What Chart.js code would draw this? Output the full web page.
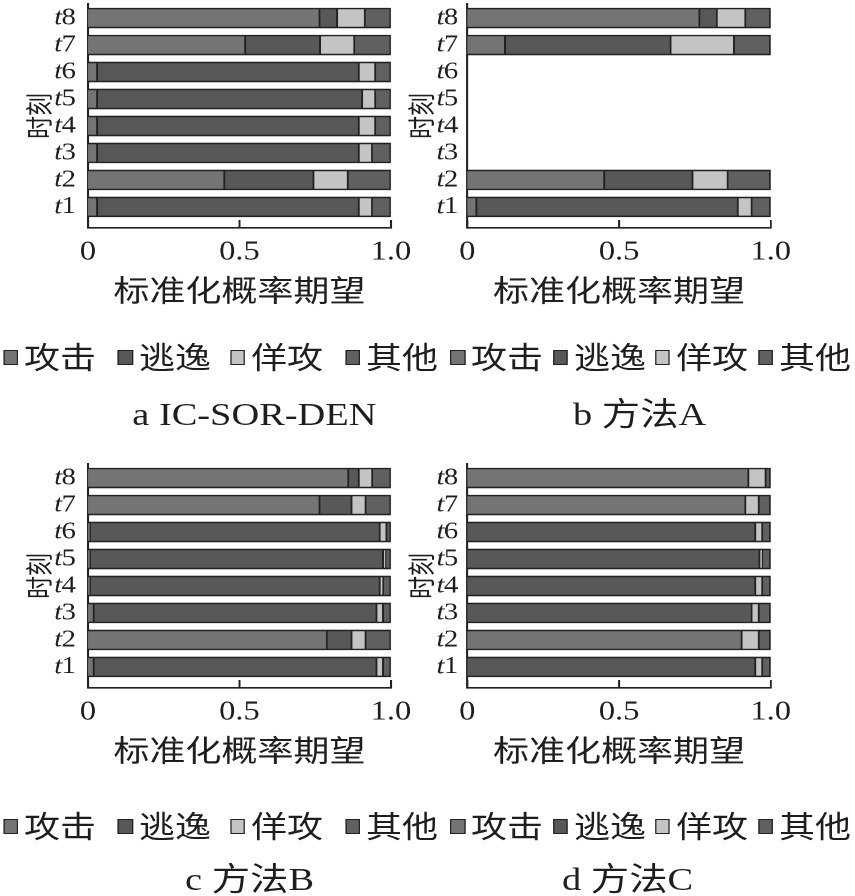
<!DOCTYPE html>
<html>
<head>
<meta charset="utf-8">
<script src="https://cdn.jsdelivr.net/npm/chart.js@4.4.1/dist/chart.umd.min.js"></script>
<style>
  html, body { margin: 0; padding: 0; background: #fff; }
  #page { position: relative; width: 713px; height: 896px; transform: scaleX(1.2); transform-origin: 0 0; }
  canvas { position: absolute; }
  .box { position: absolute; width: 12.5px; height: 15px; box-sizing: border-box; border: 1.5px solid #222; }
  .lab { position: absolute; font: 30px "Noto Sans CJK SC"; line-height: 30px; color: #1e1e1e; white-space: nowrap; }
  .cap { position: absolute; font: 32px "Liberation Serif", "Noto Sans CJK SC"; line-height: 32px; color: #1e1e1e; white-space: nowrap; transform: translateX(-50%); }
</style>
</head>
<body>
<div id="page">
  <canvas id="chartA" width="356" height="320" style="left:0;top:0"></canvas>
  <canvas id="chartB" width="382" height="320" style="left:330px;top:0"></canvas>
  <canvas id="chartC" width="356" height="320" style="left:0;top:460px"></canvas>
  <canvas id="chartD" width="382" height="320" style="left:330px;top:460px"></canvas>
</div>
<script>
const categories = ["t1", "t2", "t3", "t4", "t5", "t6", "t7", "t8"];
const seriesNames = ["攻击", "逃逸", "佯攻", "其他"];
const xTickLabels = ["0", "0.5", "1.0"];
const colors = ["#747474", "#585858", "#c4c4c4", "#606060"];

// a IC-SOR-DEN
const aAttack = [0.032, 0.452, 0.032, 0.032, 0.032, 0.032, 0.521, 0.766];
const aEscape = [0.864, 0.294, 0.864, 0.864, 0.875, 0.864, 0.247, 0.058];
const aFeint  = [0.043, 0.113, 0.043, 0.054, 0.043, 0.054, 0.113, 0.092];
const aOther  = [0.061, 0.141, 0.061, 0.050, 0.050, 0.050, 0.119, 0.084];

// b 方法A (t3-t6 missing)
const bAttack = [0.032, 0.453, null, null, null, null, 0.126, 0.767];
const bEscape = [0.861, 0.291, null, null, null, null, 0.546, 0.057];
const bFeint  = [0.046, 0.116, null, null, null, null, 0.209, 0.094];
const bOther  = [0.061, 0.140, null, null, null, null, 0.119, 0.082];

// c 方法B
const cAttack = [0.021, 0.790, 0.021, 0.009, 0.009, 0.009, 0.766, 0.861];
const cEscape = [0.933, 0.082, 0.933, 0.956, 0.967, 0.956, 0.106, 0.035];
const cFeint  = [0.022, 0.046, 0.022, 0.011, 0.008, 0.022, 0.046, 0.044];
const cOther  = [0.024, 0.082, 0.024, 0.024, 0.016, 0.013, 0.082, 0.060];

// d 方法C
const dAttack = [0, 0.906, 0, 0, 0, 0, 0.918, 0.928];
const dEscape = [0.951, 0, 0.939, 0.951, 0.965, 0.951, 0, 0];
const dFeint  = [0.023, 0.056, 0.023, 0.023, 0.009, 0.023, 0.044, 0.057];
const dOther  = [0.026, 0.038, 0.038, 0.026, 0.026, 0.026, 0.038, 0.015];

const ink = "#1e1e1e";

// inward x ticks + "t" italic / digit upright y labels
const axisMarks = {
  id: "axisMarks",
  afterDraw(chart, args, opts) {
    const { ctx, chartArea, scales } = chart;
    ctx.save();
    ctx.strokeStyle = "#222";
    ctx.lineWidth = 1.6;
    scales.x.ticks.forEach((t) => {
      const px = scales.x.getPixelForValue(t.value);
      ctx.beginPath();
      ctx.moveTo(px, chartArea.bottom);
      ctx.lineTo(px, chartArea.bottom - 8);
      ctx.stroke();
    });
    ctx.fillStyle = ink;
    ctx.textBaseline = "middle";
    ctx.textAlign = "left";
    const right = chartArea.left - opts.gap;
    categories.forEach((c, i) => {
      const py = scales.y.getPixelForValue(i + 1);
      const num = c.slice(1);
      ctx.font = '24px "Liberation Serif"';
      const wn = ctx.measureText(num).width;
      ctx.fillText(num, right - wn, py);
      ctx.font = 'italic 24px "Liberation Serif"';
      const wt = ctx.measureText("t").width;
      ctx.fillText("t", right - wn - wt + 0.5, py);
    });
    ctx.restore();
  },
};

function makePanel(id, series, p) {
  return new Chart(document.getElementById(id), {
    type: "bar",
    data: {
      datasets: series.map((vals, k) => ({
        label: seriesNames[k],
        data: vals.map((v, i) => ({ x: v || null, y: i + 1 })),
        backgroundColor: colors[k],
        borderColor: "#222",
        borderWidth: 1.6,
        barThickness: 20,
      })),
    },
    options: {
      indexAxis: "y",
      responsive: false,
      animation: false,
      devicePixelRatio: 2,
      layout: { padding: { top: 4, left: 0, right: p.right, bottom: 0 } },
      plugins: { legend: { display: false }, tooltip: { enabled: false }, axisMarks: { gap: p.gap } },
      scales: {
        x: {
          type: "linear",
          stacked: true,
          min: 0,
          max: 1,
          grid: { display: false, drawTicks: false },
          border: { display: true, color: "#222", width: 1.6 },
          ticks: {
            stepSize: 0.5,
            maxRotation: 0,
            padding: 8,
            color: ink,
            font: { family: "Liberation Serif", size: 27 },
            callback: (v, i) => xTickLabels[i],
          },
          title: {
            display: true,
            text: "标准化概率期望",
            color: ink,
            font: { family: "Noto Sans CJK SC", size: 30 },
            padding: { top: 0, bottom: 12 },
          },
          afterFit: (s) => { s.height = 92; },
        },
        y: {
          type: "linear",
          stacked: true,
          offset: false,
          min: 0.22,
          max: 8.52,
          grid: { display: false, drawTicks: false, offset: false },
          border: { display: true, color: "#222", width: 1.6 },
          ticks: { display: false },
          title: {
            display: true,
            text: "时刻",
            color: ink,
            font: { family: "Noto Sans CJK SC", size: 23 },
            padding: { top: p.titlePad, bottom: 0 },
          },
          afterFit: (s) => { s.width = p.yWidth; },
        },
      },
    },
    plugins: [axisMarks],
  });
}

const leftPanel = { right: 30.2, yWidth: 73.3, gap: 10, titlePad: 18.7 };
const rightPanel = { right: 69.7, yWidth: 59.4, gap: 7.5, titlePad: 7.2 };

makePanel("chartA", [aAttack, aEscape, aFeint, aOther], leftPanel);
makePanel("chartB", [bAttack, bEscape, bFeint, bOther], rightPanel);
makePanel("chartC", [cAttack, cEscape, cFeint, cOther], leftPanel);
makePanel("chartD", [dAttack, dEscape, dFeint, dOther], rightPanel);

// legend rows and captions
const page = document.getElementById("page");
const legendBoxX = [2.5, 98.3, 191.7, 287.5, 375, 460.8, 545.8, 631.7];
const legendRowsY = [357, 826];
const captions = [
  { text: "a IC-SOR-DEN", x: 212, y: 398 },
  { text: "b 方法A", x: 533, y: 398 },
  { text: "c 方法B", x: 208, y: 863 },
  { text: "d 方法C", x: 523, y: 863 },
];

legendRowsY.forEach((cy) => {
  legendBoxX.forEach((bx, j) => {
    const k = j % 4;
    const box = document.createElement("div");
    box.className = "box";
    box.style.left = bx + "px";
    box.style.top = (cy - 7.5) + "px";
    box.style.background = colors[k];
    page.appendChild(box);
    const lab = document.createElement("div");
    lab.className = "lab";
    lab.textContent = seriesNames[k];
    lab.style.left = (bx + 17.5) + "px";
    lab.style.top = (cy - 16.7) + "px";
    page.appendChild(lab);
  });
});

captions.forEach((c) => {
  const el = document.createElement("div");
  el.className = "cap";
  el.textContent = c.text;
  el.style.left = c.x + "px";
  el.style.top = c.y + "px";
  page.appendChild(el);
});
</script>
</body>
</html>
